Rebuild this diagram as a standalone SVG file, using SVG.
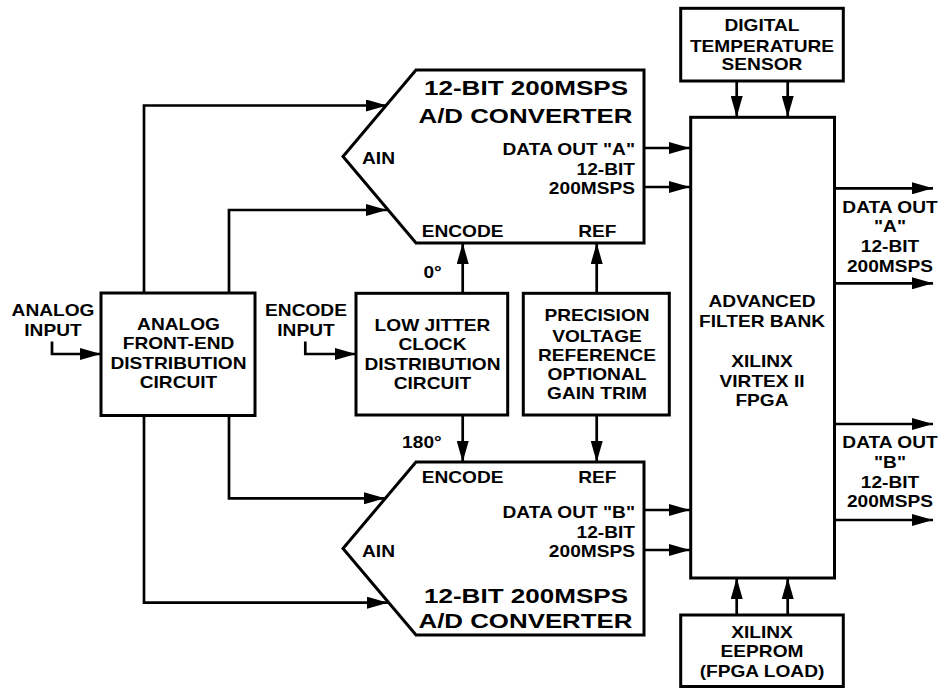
<svg xmlns="http://www.w3.org/2000/svg" width="940" height="688" viewBox="0 0 940 688">
<defs>
<marker id="ah" viewBox="0 0 21 12" markerWidth="21" markerHeight="12" refX="21" refY="6" orient="auto" markerUnits="userSpaceOnUse">
<path d="M0,0 L21,6 L0,12 z" fill="#000"/>
</marker>
<style>
.box{fill:#fff;stroke:#000;stroke-width:3}
.w{fill:none;stroke:#000;stroke-width:2.7;marker-end:url(#ah)}
.t{font-family:"Liberation Sans",Arial,sans-serif;font-weight:bold;font-size:16.5px;fill:#000}
.h{font-family:"Liberation Sans",Arial,sans-serif;font-weight:bold;font-size:20px;fill:#000}
.m{text-anchor:middle}
.e{text-anchor:end}
</style>
</defs>
<rect width="940" height="688" fill="#fff"/>

<g id="connectors">
<path class="w" d="M52,341.5 V354 H101"/>
<path class="w" d="M305.3,341.5 V354 H356"/>
<path class="w" d="M144,293 V105.5 H387"/>
<path class="w" d="M229,293 V210 H387"/>
<path class="w" d="M144,415.5 V602.7 H388"/>
<path class="w" d="M229,415.5 V498.3 H385"/>
<path class="w" d="M462.7,293 V243"/>
<path class="w" d="M596.7,293 V243"/>
<path class="w" d="M462.7,415 V462"/>
<path class="w" d="M596.7,415 V462"/>
<path class="w" d="M644,148 H690"/>
<path class="w" d="M644,187 H690"/>
<path class="w" d="M644,510 H690"/>
<path class="w" d="M644,550 H690"/>
<path class="w" d="M736.7,81 V117"/>
<path class="w" d="M787.7,81 V117"/>
<path class="w" d="M736.7,615 V578"/>
<path class="w" d="M787.7,615 V578"/>
<path class="w" d="M834.5,188.3 H933"/>
<path class="w" d="M834.5,283.3 H933"/>
<path class="w" d="M834.5,424 H933"/>
<path class="w" d="M834.5,520 H933"/>
</g>

<g id="analog-input">
<text class="t m" transform="translate(53 316) scale(1.16 1)">ANALOG</text>
<text class="t m" transform="translate(53 336) scale(1.16 1)">INPUT</text>
</g>

<g id="encode-input">
<text class="t m" transform="translate(306 316) scale(1.16 1)">ENCODE</text>
<text class="t m" transform="translate(306 336) scale(1.16 1)">INPUT</text>
</g>

<g id="analog-frontend">
<rect class="box" x="101" y="293" width="154" height="122.5"/>
<text class="t m" transform="translate(178.5 330) scale(1.16 1)">ANALOG</text>
<text class="t m" transform="translate(178.5 349.3) scale(1.16 1)">FRONT-END</text>
<text class="t m" transform="translate(178.5 369.3) scale(1.16 1)">DISTRIBUTION</text>
<text class="t m" transform="translate(178.5 388.3) scale(1.16 1)">CIRCUIT</text>
</g>

<g id="clock-dist">
<rect class="box" x="356" y="293.3" width="151.7" height="121.7"/>
<text class="t m" transform="translate(432.5 330.7) scale(1.16 1)">LOW JITTER</text>
<text class="t m" transform="translate(432.5 350) scale(1.16 1)">CLOCK</text>
<text class="t m" transform="translate(432.5 370) scale(1.16 1)">DISTRIBUTION</text>
<text class="t m" transform="translate(432.5 389.3) scale(1.16 1)">CIRCUIT</text>
<text class="t e" transform="translate(441.7 278.3) scale(1.16 1)">0°</text>
<text class="t e" transform="translate(441.7 448.3) scale(1.16 1)">180°</text>
</g>

<g id="vref">
<rect class="box" x="523.3" y="293.3" width="146" height="121.7"/>
<text class="t m" transform="translate(597 321) scale(1.16 1)">PRECISION</text>
<text class="t m" transform="translate(597 341.7) scale(1.16 1)">VOLTAGE</text>
<text class="t m" transform="translate(597 361) scale(1.16 1)">REFERENCE</text>
<text class="t m" transform="translate(597 380) scale(1.16 1)">OPTIONAL</text>
<text class="t m" transform="translate(597 399) scale(1.16 1)">GAIN TRIM</text>
</g>

<g id="adc-a">
<polygon class="box" points="416,70 644,70 644,243 416,243 343,156.5"/>
<text class="h m" x="526" y="95" textLength="204" lengthAdjust="spacingAndGlyphs">12-BIT 200MSPS</text>
<text class="h m" x="525.5" y="122.7" textLength="214" lengthAdjust="spacingAndGlyphs">A/D CONVERTER</text>
<text class="t" transform="translate(362 164) scale(1.16 1)">AIN</text>
<text class="t e" transform="translate(635 155) scale(1.16 1)">DATA OUT "A"</text>
<text class="t e" transform="translate(635 175) scale(1.16 1)">12-BIT</text>
<text class="t e" transform="translate(635 194) scale(1.16 1)">200MSPS</text>
<text class="t" transform="translate(421.7 236.7) scale(1.16 1)">ENCODE</text>
<text class="t" transform="translate(578.3 236.7) scale(1.16 1)">REF</text>
</g>

<g id="adc-b">
<polygon class="box" points="416,462 644,462 644,635 416,635 343,548.5"/>
<text class="t" transform="translate(421.7 483.3) scale(1.16 1)">ENCODE</text>
<text class="t" transform="translate(578.3 483.3) scale(1.16 1)">REF</text>
<text class="t e" transform="translate(635 518.3) scale(1.16 1)">DATA OUT "B"</text>
<text class="t e" transform="translate(635 538.3) scale(1.16 1)">12-BIT</text>
<text class="t e" transform="translate(635 557.3) scale(1.16 1)">200MSPS</text>
<text class="t" transform="translate(362 556.7) scale(1.16 1)">AIN</text>
<text class="h m" x="526" y="603.3" textLength="204" lengthAdjust="spacingAndGlyphs">12-BIT 200MSPS</text>
<text class="h m" x="525.5" y="628.3" textLength="214" lengthAdjust="spacingAndGlyphs">A/D CONVERTER</text>
</g>

<g id="temp-sensor">
<rect class="box" x="680.7" y="8.3" width="162.6" height="72.7"/>
<text class="t m" transform="translate(762 30.7) scale(1.16 1)">DIGITAL</text>
<text class="t m" transform="translate(762 51.7) scale(1.16 1)">TEMPERATURE</text>
<text class="t m" transform="translate(762 70) scale(1.16 1)">SENSOR</text>
</g>

<g id="fpga">
<rect class="box" x="690.7" y="117.3" width="143.8" height="460.7"/>
<text class="t m" transform="translate(762 306.7) scale(1.16 1)">ADVANCED</text>
<text class="t m" transform="translate(762 326.7) scale(1.16 1)">FILTER BANK</text>
<text class="t m" transform="translate(762 367.3) scale(1.16 1)">XILINX</text>
<text class="t m" transform="translate(762 387.3) scale(1.16 1)">VIRTEX II</text>
<text class="t m" transform="translate(762 406) scale(1.16 1)">FPGA</text>
</g>

<g id="eeprom">
<rect class="box" x="680.7" y="615" width="162.6" height="71.5"/>
<text class="t m" transform="translate(762 638.3) scale(1.16 1)">XILINX</text>
<text class="t m" transform="translate(762 657.3) scale(1.16 1)">EEPROM</text>
<text class="t m" transform="translate(762 676.7) scale(1.16 1)">(FPGA LOAD)</text>
</g>

<g id="out-a">
<text class="t m" transform="translate(890 212.7) scale(1.16 1)">DATA OUT</text>
<text class="t m" transform="translate(890 232) scale(1.16 1)">"A"</text>
<text class="t m" transform="translate(890 252) scale(1.16 1)">12-BIT</text>
<text class="t m" transform="translate(890 271.7) scale(1.16 1)">200MSPS</text>
</g>

<g id="out-b">
<text class="t m" transform="translate(890 448.3) scale(1.16 1)">DATA OUT</text>
<text class="t m" transform="translate(890 468.3) scale(1.16 1)">"B"</text>
<text class="t m" transform="translate(890 488.3) scale(1.16 1)">12-BIT</text>
<text class="t m" transform="translate(890 506.7) scale(1.16 1)">200MSPS</text>
</g>
</svg>
